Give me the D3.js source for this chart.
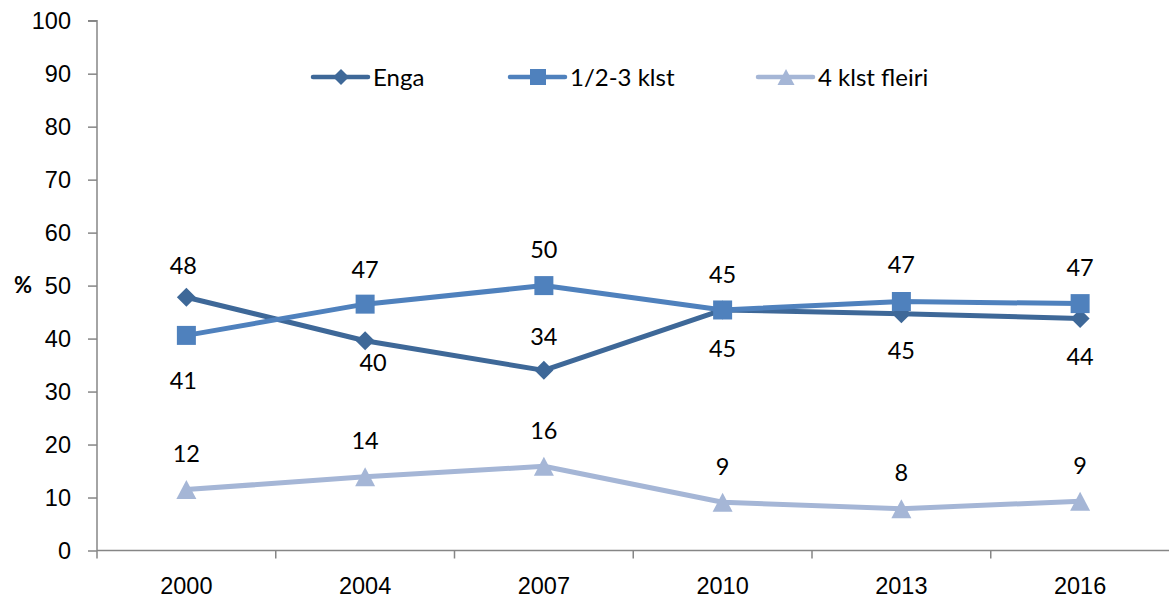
<!DOCTYPE html>
<meta charset="utf-8">
<script src="https://d3js.org/d3.v7.min.js"></script>
<style>
  body { margin: 0; background: #fff; }
  svg { display: block; font-family: Lato, "Open Sans", sans-serif; }
  .axis path, .axis line { stroke: #868686; stroke-width: 1.5px; }
  .axis text { font-size: 23.5px; fill: #000; }
  .dataLabel { font-size: 23.5px; fill: #000; }
  .legend text { font-size: 24px; fill: #000; }
</style>
<body></body>
<script>

// data
var years = ["2000", "2004", "2007", "2010", "2013", "2016"];
var enga = [47.8, 39.6, 34.0, 45.4, 44.7, 43.8];
var klst13 = [40.6, 46.5, 50.0, 45.4, 47.0, 46.6];
var klst4 = [11.5, 13.9, 15.9, 9.1, 7.9, 9.3];
var seriesNames = ["Enga", "1/2-3 klst", "4 klst fleiri"];
var yTicks = [0, 10, 20, 30, 40, 50, 60, 70, 80, 90, 100];

// label placement (offsets from the point, px)
var labelDy = [
  [-32, 22, -34, 39, 37, 38],
  [45, -35, -36, -35, -37, -36],
  [-36, -36, -36, -36, -36, -36]
];
var labelDx = [
  [-3, 8, 0, 0, 0, 0],
  [-3, 0, 0, 0, 0, 0],
  [0, 0, 0, 0, 0, 0]
];

var colors = ["#3E6898", "#4F81BD", "#A5B6D6"];
var width = 1169, height = 599;
var margin = {top: 20.7, left: 97, bottom: 48.5};

var svg = d3.select("body").append("svg")
  .attr("width", width)
  .attr("height", height);

var x = d3.scaleBand()
  .domain(years)
  .range([margin.left, margin.left + 6 * 178.75])
  .padding(0);

var y = d3.scaleLinear()
  .domain([0, 100])
  .range([height - margin.bottom, margin.top]);

// y axis
var yAxis = d3.axisLeft(y)
  .tickValues(yTicks)
  .tickSize(9)
  .tickPadding(17);

svg.append("g")
  .attr("class", "y axis")
  .attr("transform", "translate(" + margin.left + ",0)")
  .call(yAxis)
  .call(function(g) { g.select(".domain").attr("d", "M-9," + y(100) + "H0V" + y(0)); });

// x axis: labels at band centers, ticks at band edges
var xAxis = d3.axisBottom(x).tickSize(0).tickPadding(27);
var gx = svg.append("g")
  .attr("class", "x axis")
  .attr("transform", "translate(0," + y(0) + ")")
  .call(xAxis);
gx.select(".domain").attr("d", "M" + margin.left + ",0H" + width);
gx.selectAll(".edgeTick")
  .data(years).enter().append("line")
  .attr("class", "edgeTick")
  .attr("x1", function(d) { return x(d); })
  .attr("x2", function(d) { return x(d); })
  .attr("y1", 0).attr("y2", 8);

// % label
svg.append("text")
  .attr("x", 23).attr("y", y(50))
  .attr("dy", "0.35em")
  .attr("text-anchor", "middle")
  .style("font-size", "22px")
  .style("font-weight", "bold")
  .text("%");

// markers
var markers = [
  "M0,-9.5L9.5,0L0,9.5L-9.5,0Z",
  "M-9.5,-9.5H9.5V9.5H-9.5Z",
  "M0,-9.5L10,9.5L-10,9.5Z"
];
var legendMarkers = [
  "M0,-8L8,0L0,8L-8,0Z",
  "M-8,-8H8V8H-8Z",
  "M0,-8L8.5,8L-8.5,8Z"
];

var line = d3.line()
  .x(function(d, i) { return x(years[i]) + x.bandwidth() / 2; })
  .y(function(d) { return y(d); });

var allSeries = [enga, klst13, klst4];

allSeries.forEach(function(values, s) {
  var g = svg.append("g").attr("class", "series");
  g.append("path")
    .datum(values)
    .attr("d", line)
    .attr("fill", "none")
    .attr("stroke", colors[s])
    .attr("stroke-width", 5)
    .attr("stroke-linejoin", "round");
  g.selectAll(".marker")
    .data(values).enter().append("path")
    .attr("class", "marker")
    .attr("d", markers[s])
    .attr("fill", colors[s])
    .attr("transform", function(d, i) {
      return "translate(" + (x(years[i]) + x.bandwidth() / 2) + "," + y(d) + ")";
    });
});

// data labels on top
allSeries.forEach(function(values, s) {
  svg.selectAll(".lab" + s)
    .data(values).enter().append("text")
    .attr("class", "dataLabel lab" + s)
    .attr("text-anchor", "middle")
    .attr("x", function(d, i) { return x(years[i]) + x.bandwidth() / 2 + labelDx[s][i]; })
    .attr("y", function(d, i) { return y(d) + labelDy[s][i]; })
    .attr("dy", "0.36em")
    .text(function(d) { return Math.round(d); });
});

// legend
var legendX = [313, 510, 758];
var legend = svg.append("g").attr("class", "legend");
seriesNames.forEach(function(name, s) {
  var item = legend.append("g")
    .attr("transform", "translate(" + legendX[s] + ",77)");
  item.append("line")
    .attr("x1", 0).attr("x2", 55)
    .attr("stroke", colors[s])
    .attr("stroke-width", 4.5)
    .attr("stroke-linecap", "round");
  item.append("path")
    .attr("d", legendMarkers[s])
    .attr("fill", colors[s])
    .attr("transform", "translate(28,0)");
  item.append("text")
    .attr("x", 60)
    .attr("dy", "0.36em")
    .text(name);
});
</script>
